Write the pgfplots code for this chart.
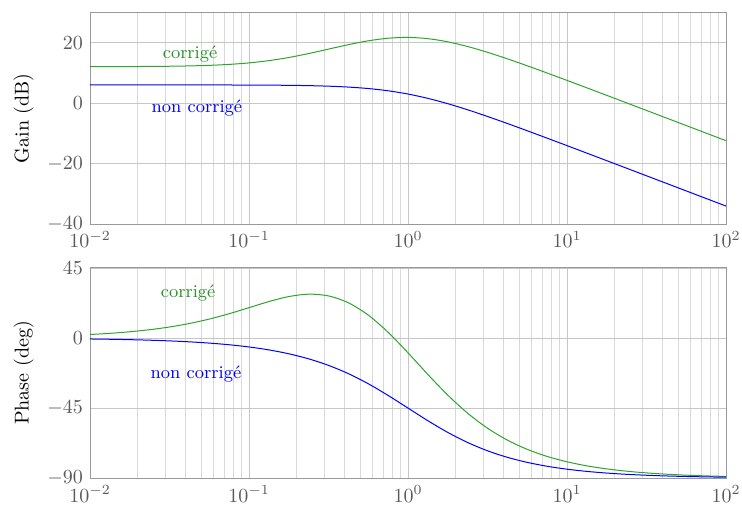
\documentclass[border=0pt]{standalone}
\usepackage{pgfplots}
\pgfplotsset{compat=1.18}
\definecolor{cgreen}{RGB}{45,165,45}
\definecolor{cgreentext}{RGB}{40,145,40}
\pgfplotstableread{
w gb gg pb pg
0.01 6.020 12.056 -0.573 2.288
0.013335 6.020 12.067 -0.764 3.047
0.017783 6.019 12.088 -1.019 4.053
0.023714 6.018 12.123 -1.358 5.381
0.031623 6.016 12.186 -1.811 7.121
0.04217 6.013 12.295 -2.415 9.370
0.056234 6.007 12.482 -3.219 12.207
0.074989 5.996 12.793 -4.289 15.647
0.1 5.977 13.290 -5.711 19.543
0.13335 5.944 14.037 -7.596 23.472
0.17783 5.885 15.072 -10.084 26.689
0.23714 5.783 16.372 -13.340 28.219
0.31623 5.607 17.841 -17.548 27.112
0.4217 5.310 19.312 -22.864 22.707
0.56234 4.827 20.584 -29.355 14.782
0.74989 4.083 21.437 -36.870 3.730
1 3.010 21.702 -45.000 -9.462
1.3335 1.583 21.295 -53.130 -23.385
1.7783 -0.173 20.256 -60.646 -36.645
2.3714 -2.190 18.703 -67.136 -48.293
3.1623 -4.394 16.788 -72.452 -57.920
4.217 -6.717 14.635 -76.660 -65.583
5.6234 -9.115 12.338 -79.916 -71.530
7.4989 -11.556 9.952 -82.404 -76.082
10 -14.023 7.519 -84.289 -79.534
13.335 -16.503 5.057 -85.712 -82.139
17.783 -18.994 2.576 -86.781 -84.100
23.714 -21.487 0.088 -87.585 -85.573
31.623 -23.983 -2.404 -88.189 -86.680
42.17 -26.481 -4.900 -88.642 -87.510
56.234 -28.980 -7.398 -88.981 -88.132
74.989 -31.480 -9.898 -89.236 -88.599
100 -33.979 -12.396 -89.427 -88.950
}\bodetab
\begin{document}
\begin{tikzpicture}
\useasboundingbox (0,0) rectangle (371pt,-253.5pt);
\begin{semilogxaxis}[at={(45pt,-6.15pt)}, anchor=north west,
  scale only axis, width=318pt, height=106pt,
  xmin=0.01, xmax=100, ymin=-40, ymax=30, ytick={-40,-20,0,20},
  grid=both,
  major grid style={gray!45},
  minor grid style={gray!30},
  axis line style={gray!80},
  major tick length=0pt, minor tick length=0pt,
  tick label style={text=black!65},
  ylabel={Gain (dB)}]
  \addplot[cgreen, smooth, line width=0.5pt] table[x=w, y=gg] {\bodetab};
  \addplot[blue, smooth, line width=0.5pt] table[x=w, y=gb] {\bodetab};
  \node[text=cgreentext, font=\small] at (axis cs:0.0426,16.2) {corrig\'e};
  \node[text=blue, font=\small] at (axis cs:0.047,-1.5) {non corrig\'e};
\end{semilogxaxis}
\begin{semilogxaxis}[at={(45pt,-133.65pt)}, anchor=north west,
  scale only axis, width=318pt, height=105.7pt,
  xmin=0.01, xmax=100, ymin=-90.4, ymax=45.5, ytick={-90,-45,0,45},
  grid=both,
  major grid style={gray!45},
  minor grid style={gray!30},
  axis line style={gray!80},
  major tick length=0pt, minor tick length=0pt,
  tick label style={text=black!65},
  ylabel={Phase (deg)}]
  \addplot[cgreen, smooth, line width=0.5pt] table[x=w, y=pg] {\bodetab};
  \addplot[blue, smooth, line width=0.5pt] table[x=w, y=pb] {\bodetab};
  \node[text=cgreentext, font=\small] at (axis cs:0.0414,29.1) {corrig\'e};
  \node[text=blue, font=\small] at (axis cs:0.0464,-23.0) {non corrig\'e};
\end{semilogxaxis}
\end{tikzpicture}
\end{document}
